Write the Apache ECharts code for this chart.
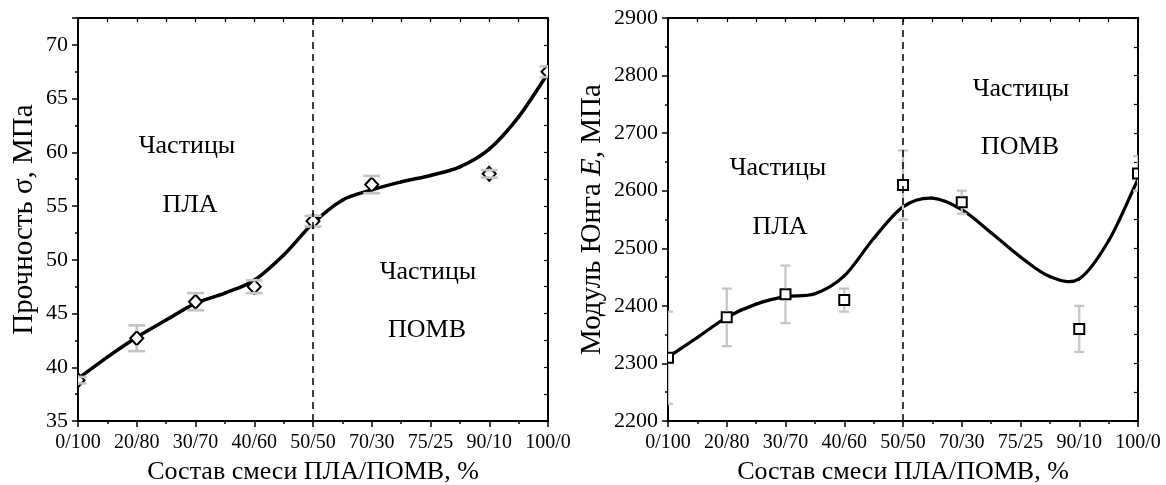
<!DOCTYPE html>
<html>
<head>
<meta charset="utf-8">
<script src="https://cdn.jsdelivr.net/npm/echarts@6/dist/echarts.min.js"></script>
<style>
  html, body { margin: 0; padding: 0; background: #fff; }
  #chart { width: 1166px; height: 485px; }
</style>
</head>
<body>
<div id="chart"></div>
<script>
// Blend compositions PLA/POMB (x axis categories)
const categories = ['0/100', '20/80', '30/70', '40/60', '50/50', '70/30', '75/25', '90/10', '100/0'];

// Measured points: index on the composition axis, value, ± error
const strengthX   = [0, 1, 2, 3, 4, 5, 7, 8];
const strengthVal = [38.8, 42.7, 46.1, 47.5, 53.6, 57.0, 58.0, 67.5];
const strengthErr = [0.3, 1.2, 0.8, 0.6, 0.5, 0.8, 0.35, 0.5];

const modulusX   = [0, 1, 2, 3, 4, 5, 7, 8];
const modulusVal = [2310, 2380, 2420, 2410, 2610, 2580, 2360, 2630];
const modulusErr = [80, 50, 50, 20, 60, 20, 40, 30];

// Fitted trend curves, sampled along the composition axis
const fitX        = [0, 0.5, 1, 1.5, 2, 2.5, 3, 3.5, 4, 4.5, 5, 5.5, 6, 6.5, 7, 7.5, 8];
const fitStrength = [38.95, 40.95, 42.8, 44.4, 45.95, 46.9, 48.1, 50.45, 53.4, 55.55, 56.5, 57.25, 57.85, 58.65, 60.3, 63.3, 67.35];
const fitModulus  = [2311, 2345, 2380, 2403, 2416, 2421, 2452, 2517, 2572, 2587, 2567, 2527, 2485, 2451, 2447, 2513, 2620];

// Region annotations
const regionTexts = [
  ['Частицы', 187, 146], ['ПЛА', 190, 205], ['Частицы', 428, 272], ['ПОМВ', 427, 330],
  ['Частицы', 778, 168], ['ПЛА', 780, 227], ['Частицы', 1021, 89], ['ПОМВ', 1020, 147]
];

const FONT = '"Liberation Serif", "Times New Roman", serif';
const chart = echarts.init(document.getElementById('chart'), null, { renderer: 'canvas' });

const pairs = (xs, ys) => xs.map((x, i) => [x, ys[i]]);
const errRows = (xs, vs, es) => xs.map((x, i) => [x, vs[i] - es[i], vs[i] + es[i], vs[i]]);

function bottomX(grid, name) {
  return {
    gridIndex: grid, type: 'value', min: 0, max: 8, interval: 1, position: 'bottom',
    name: name, nameLocation: 'middle', nameGap: 38,
    nameTextStyle: { fontFamily: FONT, fontSize: 26, color: '#000' },
    axisLine: { show: true, onZero: false, lineStyle: { color: '#000', width: 2 } },
    axisTick: { show: true, inside: false, length: 6, lineStyle: { color: '#000', width: 1.5 } },
    minorTick: { show: true, splitNumber: 2, length: 3, lineStyle: { color: '#000', width: 1.5 } },
    axisLabel: {
      margin: 12, fontFamily: FONT, fontSize: 20, color: '#000',
      formatter: v => categories[Math.round(v)] || ''
    },
    splitLine: { show: false }
  };
}
function topX(grid) {
  return {
    gridIndex: grid, type: 'value', min: 0, max: 8, interval: 1, position: 'top',
    axisLine: { show: true, onZero: false, lineStyle: { color: '#000', width: 2 } },
    axisTick: { show: true, inside: true, length: 4, lineStyle: { color: '#000', width: 1.2 } },
    minorTick: { show: true, splitNumber: 2, length: 4, lineStyle: { color: '#000', width: 1.2 } },
    axisLabel: { show: false }, splitLine: { show: false }
  };
}
function leftY(grid, min, max, interval, name, gap, rich) {
  return {
    gridIndex: grid, type: 'value', min: min, max: max, interval: interval, position: 'left',
    name: name, nameLocation: 'middle', nameGap: gap,
    nameTextStyle: { fontFamily: FONT, fontSize: 29, color: '#000', rich: rich || {} },
    axisLine: { show: true, onZero: false, lineStyle: { color: '#000', width: 2 } },
    axisTick: { show: true, inside: false, length: 6, lineStyle: { color: '#000', width: 1.5 } },
    minorTick: { show: true, splitNumber: 2, length: 3, lineStyle: { color: '#000', width: 1.5 } },
    axisLabel: {
      margin: 10, fontFamily: FONT, fontSize: 22, color: '#000',
      formatter: v => (Math.abs(v / interval - Math.round(v / interval)) < 1e-6 ? String(v) : '')
    },
    splitLine: { show: false }
  };
}
function rightY(grid, min, max, interval) {
  return {
    gridIndex: grid, type: 'value', min: min, max: max, interval: interval, position: 'right',
    axisLine: { show: true, onZero: false, lineStyle: { color: '#000', width: 2 } },
    axisTick: { show: true, inside: true, length: 4, lineStyle: { color: '#000', width: 1.2 } },
    minorTick: { show: true, splitNumber: 2, length: 4, lineStyle: { color: '#000', width: 1.2 } },
    axisLabel: { show: false }, splitLine: { show: false }
  };
}

// Smooth fit curve: one cubic Bezier piece per sample interval (Catmull-Rom tangents)
function fitCurveSeries(xAxisIndex, yAxisIndex, xs, ys, width) {
  const n = xs.length;
  return {
    type: 'custom', xAxisIndex, yAxisIndex, z: 2, silent: true, clip: true,
    data: pairs(xs, ys),
    renderItem: (params, api) => {
      const i = params.dataIndex;
      if (i >= n - 1) return null;
      const P = k => {
        if (k < 0) {
          const a = api.coord([xs[0], ys[0]]), b = api.coord([xs[1], ys[1]]);
          return [2 * a[0] - b[0], 2 * a[1] - b[1]];
        }
        if (k > n - 1) {
          const a = api.coord([xs[n - 1], ys[n - 1]]), b = api.coord([xs[n - 2], ys[n - 2]]);
          return [2 * a[0] - b[0], 2 * a[1] - b[1]];
        }
        return api.coord([xs[k], ys[k]]);
      };
      const p0 = P(i - 1), p1 = P(i), p2 = P(i + 1), p3 = P(i + 2);
      return {
        type: 'bezierCurve',
        shape: {
          x1: p1[0], y1: p1[1], x2: p2[0], y2: p2[1],
          cpx1: p1[0] + (p2[0] - p0[0]) / 6, cpy1: p1[1] + (p2[1] - p0[1]) / 6,
          cpx2: p2[0] - (p3[0] - p1[0]) / 6, cpy2: p2[1] - (p3[1] - p1[1]) / 6
        },
        style: { stroke: '#000', lineWidth: width, fill: null, lineCap: 'round' }
      };
    }
  };
}

// Hollow markers (diamond or square), clipped to the plot frame
function markerSeries(xAxisIndex, yAxisIndex, xs, ys, shape, halfW, halfH, extra) {
  return Object.assign({
    type: 'custom', xAxisIndex, yAxisIndex, z: 3, silent: true, clip: true,
    data: pairs(xs, ys),
    renderItem: (params, api) => {
      const p = api.coord([api.value(0), api.value(1)]);
      const style = { fill: '#fff', stroke: '#000', lineWidth: 2 };
      if (shape === 'diamond') {
        return {
          type: 'polygon', style,
          shape: { points: [[p[0], p[1] - halfH], [p[0] + halfW, p[1]], [p[0], p[1] + halfH], [p[0] - halfW, p[1]]] }
        };
      }
      return { type: 'rect', style, shape: { x: p[0] - halfW, y: p[1] - halfH, width: 2 * halfW, height: 2 * halfH } };
    }
  }, extra || {});
}

// Error bars: caps plus vertical whiskers that stop at the marker edge
function errorBarSeries(xAxisIndex, yAxisIndex, rows, capHalf, gap, width) {
  return {
    type: 'custom', xAxisIndex, yAxisIndex, z: 4, silent: true, clip: true,
    data: rows,
    renderItem: (params, api) => {
      const x = api.value(0);
      const lo = api.coord([x, api.value(1)]);
      const hi = api.coord([x, api.value(2)]);
      const mid = api.coord([x, api.value(3)]);
      const style = { stroke: '#c4c4c4', lineWidth: width, fill: null };
      const kids = [
        { type: 'line', shape: { x1: hi[0] - capHalf, y1: hi[1], x2: hi[0] + capHalf, y2: hi[1] }, style },
        { type: 'line', shape: { x1: lo[0] - capHalf, y1: lo[1], x2: lo[0] + capHalf, y2: lo[1] }, style }
      ];
      if (mid[1] - gap > hi[1]) kids.push({ type: 'line', shape: { x1: hi[0], y1: hi[1], x2: hi[0], y2: mid[1] - gap }, style });
      if (mid[1] + gap < lo[1]) kids.push({ type: 'line', shape: { x1: lo[0], y1: mid[1] + gap, x2: lo[0], y2: lo[1] }, style });
      return { type: 'group', children: kids };
    }
  };
}

const dividerLine = {
  silent: true, symbol: 'none', label: { show: false },
  lineStyle: { color: '#000', width: 1.5, type: [7, 5] },
  data: [{ xAxis: 4 }]
};

const graphics = regionTexts.map(([t, x, y]) => ({
  type: 'text', x: x, y: y, z: 10,
  style: {
    text: t, fill: '#000', font: '26px ' + FONT,
    align: 'center', verticalAlign: 'middle', textAlign: 'center', textVerticalAlign: 'middle'
  }
}));

const option = {
  backgroundColor: '#fff',
  animation: false,
  grid: [
    { left: 78, top: 18, width: 470, height: 403, containLabel: false, outerBoundsMode: 'none' },
    { left: 668, top: 18, width: 470, height: 403, containLabel: false, outerBoundsMode: 'none' }
  ],
  xAxis: [
    bottomX(0, 'Состав смеси ПЛА/ПОМВ, %'), topX(0),
    bottomX(1, 'Состав смеси ПЛА/ПОМВ, %'), topX(1)
  ],
  yAxis: [
    leftY(0, 35, 72.5, 5, 'Прочность σ, МПа', 39), rightY(0, 35, 72.5, 5),
    leftY(1, 2200, 2900, 100, 'Модуль Юнга {i|E}, МПа', 61,
      { i: { fontFamily: FONT, fontSize: 29, fontStyle: 'italic', color: '#000' } }),
    rightY(1, 2200, 2900, 100)
  ],
  series: [
    // Strength panel
    fitCurveSeries(0, 0, fitX, fitStrength, 3.5),
    markerSeries(0, 0, strengthX, strengthVal, 'diamond', 6.5, 7, { markLine: dividerLine }),
    errorBarSeries(0, 0, errRows(strengthX, strengthVal, strengthErr), 8.5, 7, 2.6),

    // Modulus panel
    fitCurveSeries(2, 2, fitX, fitModulus, 3.2),
    markerSeries(2, 2, modulusX, modulusVal, 'square', 5, 5, { markLine: dividerLine }),
    errorBarSeries(2, 2, errRows(modulusX, modulusVal, modulusErr), 5, 6, 2.2)
  ],
  graphic: graphics
};

chart.setOption(option);
</script>
</body>
</html>
